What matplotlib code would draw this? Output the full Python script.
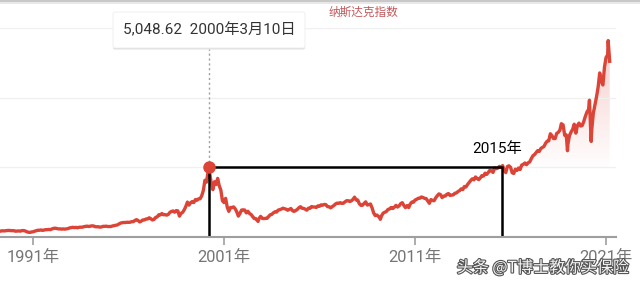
import numpy as np
import matplotlib.pyplot as plt
import matplotlib.patheffects as pe
from matplotlib.patches import Rectangle, FancyBboxPatch

plt.rcParams['font.family'] = ['Roboto', 'Noto Sans CJK SC', 'DejaVu Sans']

# Nasdaq composite, month-end closes (first value = Mar 1989)
start_year = 1989
start_month = 3
monthly_close = [
    406, 434, 446, 435, 454, 469, 472, 456, 456, 454,                  # 1989
    416, 425, 435, 420, 458, 462, 438, 381, 344, 329, 359, 374,        # 1990
    414, 453, 482, 484, 506, 475, 502, 525, 527, 542, 523, 586,        # 1991
    620, 633, 603, 579, 585, 563, 581, 563, 583, 605, 652, 677,        # 1992
    696, 670, 690, 661, 700, 704, 705, 742, 763, 779, 754, 777,        # 1993
    800, 793, 743, 733, 736, 706, 722, 765, 764, 777, 750, 752,        # 1994
    755, 794, 817, 843, 865, 933, 1001, 1020, 1044, 1036, 1059, 1052,  # 1995
    1060, 1100, 1101, 1191, 1243, 1185, 1081, 1141, 1227, 1222, 1293, 1291,  # 1996
    1380, 1309, 1222, 1261, 1400, 1442, 1594, 1587, 1686, 1594, 1601, 1570,  # 1997
    1619, 1771, 1835, 1868, 1779, 1895, 1873, 1499, 1694, 1771, 1950, 2193,  # 1998
    2505, 2288, 2461, 2543, 2471, 2686, 2638, 2739, 2746, 2966, 3336, 4069,  # 1999
    3940, 4697, 4573, 3861, 3400, 3966, 3767, 4206, 3673, 3370, 2598, 2471,  # 2000
    2773, 2152, 1840, 2116, 2110, 2161, 2027, 1805, 1499, 1690, 1931, 1950,  # 2001
    1934, 1731, 1845, 1688, 1616, 1463, 1328, 1315, 1172, 1330, 1479, 1336,  # 2002
    1321, 1338, 1341, 1464, 1596, 1623, 1735, 1810, 1787, 1932, 1960, 2003,  # 2003
    2066, 2030, 1994, 1920, 1987, 2048, 1887, 1838, 1897, 1975, 2097, 2175,  # 2004
    2062, 2052, 1999, 1922, 2068, 2057, 2185, 2152, 2152, 2120, 2233, 2205,  # 2005
    2306, 2281, 2340, 2323, 2179, 2172, 2091, 2184, 2258, 2367, 2432, 2415,  # 2006
    2464, 2416, 2422, 2525, 2605, 2603, 2546, 2596, 2701, 2859, 2661, 2652,  # 2007
    2390, 2271, 2279, 2413, 2523, 2293, 2326, 2368, 2092, 1721, 1536, 1577,  # 2008
    1476, 1378, 1529, 1717, 1774, 1835, 1979, 2009, 2122, 2045, 2145, 2269,  # 2009
    2147, 2238, 2398, 2461, 2257, 2109, 2255, 2114, 2369, 2507, 2498, 2653,  # 2010
    2700, 2782, 2781, 2873, 2835, 2774, 2756, 2579, 2415, 2684, 2620, 2605,  # 2011
    2814, 2966, 3092, 3046, 2827, 2935, 2940, 3067, 3116, 2977, 3010, 3020,  # 2012
    3142, 3160, 3268, 3329, 3456, 3403, 3626, 3590, 3771, 3920, 4060, 4177,  # 2013
    4104, 4308, 4199, 4115, 4243, 4408, 4370, 4580, 4493, 4631, 4792, 4736,  # 2014
    4635, 4964, 4901, 4941, 5070, 4987, 5128, 4777, 4620, 5054, 5109, 5007,  # 2015
    4614, 4558, 4870, 4775, 4948, 4843, 5162, 5213, 5312, 5189, 5324, 5383,  # 2016
    5615, 5825, 5912, 6048, 6199, 6140, 6348, 6429, 6496, 6728, 6874, 6903,  # 2017
    7411, 7273, 7063, 7066, 7442, 7510, 7672, 8110, 8046, 7306, 7331, 6635,  # 2018
    7282, 7533, 7729, 8095, 7453, 8006, 8175, 7963, 7999, 8292, 8665, 8973,  # 2019
    9151, 8567, 7700, 8890, 9490, 10059, 10745, 11775, 11168, 10912, 12199, 12888,  # 2020
    13070,                                                             # 2021
]
# intra-month extremes visible on the chart (decimal year, value)
extreme_dates = [2000.19, 2002.78, 2009.18, 2018.66, 2018.98, 2020.13, 2020.22, 2021.11, 2021.19]
extreme_values = [5048.62, 1114, 1268, 8133, 6190, 9817, 6860, 14095, 12610]

peak_date = 2000.19
peak_value = 5048.62
box_end = 2015.55

tick_years = [1991, 2001, 2011, 2021]
tick_labels = ['1991年', '2001年', '2011年', '2021年']

red = '#db4437'

months = start_year + (start_month + np.arange(len(monthly_close))) / 12
xs = np.concatenate([months, extreme_dates])
ys = np.concatenate([monthly_close, extreme_values])
order = np.argsort(xs)
xs, ys = xs[order], ys[order]

fig = plt.figure(figsize=(6.4, 2.86), dpi=100)
ax = fig.add_axes([0, 1 - 237 / 286, 616 / 640, (237 - 28) / 286])

# faded area under the line
poly = ax.fill_between(xs, ys, 0, color='none', lw=0)
lev = np.linspace(0, 15000, 300)
alpha = 0.26 * np.clip((lev - 4800) / 9000, 0, 1)
rgba = np.zeros((300, 2, 4))
rgba[..., :3] = [0.86, 0.27, 0.22]
rgba[..., 3] = alpha[:, None]
img = ax.imshow(rgba, extent=[xs[0], xs[-1], 0, 15000], origin='lower',
                aspect='auto', zorder=1, interpolation='bilinear')
img.set_clip_path(poly.get_paths()[0], transform=ax.transData)

ax.plot(xs, ys, color=red, lw=2.4, solid_joinstyle='round', zorder=3)
ax.plot(peak_date, peak_value, 'o', ms=8, color=red, zorder=5)
ax.plot([peak_date, peak_date], [peak_value, 13500], ls=(0, (1.5, 2)),
        color='#9e9e9e', lw=1, zorder=2)

ax.add_patch(Rectangle((peak_date, 0), box_end - peak_date, peak_value,
                       fill=False, ec='black', lw=1.8, zorder=4))

ax.set_xlim(1989.272, 2021.52)
ax.set_ylim(0, 15000)
ax.set_yticks([5000, 10000, 15000])
ax.yaxis.grid(True, color='#f0f0f0', lw=1)
ax.tick_params(axis='y', left=False, labelleft=False)
ax.set_xticks(tick_years)
ax.set_xticklabels(tick_labels, fontsize=11.8, color='#757575')
ax.tick_params(axis='x', length=6, width=1.2, color='#9e9e9e', pad=3)
for s in ['top', 'left', 'right']:
    ax.spines[s].set_visible(False)
ax.spines['bottom'].set_color('#9e9e9e')
ax.spines['bottom'].set_linewidth(1.5)
ax.spines['bottom'].set_zorder(6)

# top edge shadow
fig.add_artist(Rectangle((0, 1 - 2 / 286), 1, 2 / 286, transform=fig.transFigure,
                         color='#c8c8c8', lw=0))
fig.add_artist(Rectangle((0, 1 - 4 / 286), 1, 2 / 286, transform=fig.transFigure,
                         color='#e8e8e8', lw=0))

# tooltip
fig.add_artist(FancyBboxPatch((1.13, 2.365), 1.92, 0.36, boxstyle='round,pad=0,rounding_size=0.02',
                              transform=fig.dpi_scale_trans, fc='#d5d5d5', ec='none', alpha=0.8))
fig.add_artist(FancyBboxPatch((1.13, 2.38), 1.92, 0.36, boxstyle='round,pad=0,rounding_size=0.02',
                              transform=fig.dpi_scale_trans, fc='white', ec='#ececec', lw=0.6))
fig.text(209 / 640, 1 - 30 / 286, '5,048.62  2000年3月10日', fontsize=11,
         color='#333333', ha='center', va='center')

fig.text(363 / 640, 1 - 12 / 286, '纳斯达克指数', fontsize=8.4, color='#c2575a',
         ha='center', va='center', family=['Noto Sans CJK SC'])
fig.text(497 / 640, 1 - 149 / 286, '2015年', fontsize=11, color='black',
         ha='center', va='center')
fig.text(543 / 640, 1 - 268 / 286, '头条 @T博士教你买保险', fontsize=11.5,
         color='#f4f4f4', ha='center', va='center', family=['Noto Sans CJK SC', 'DejaVu Sans'],
         path_effects=[pe.withStroke(linewidth=1.6, foreground='#555555')])

fig.savefig('out.png', dpi=100)
